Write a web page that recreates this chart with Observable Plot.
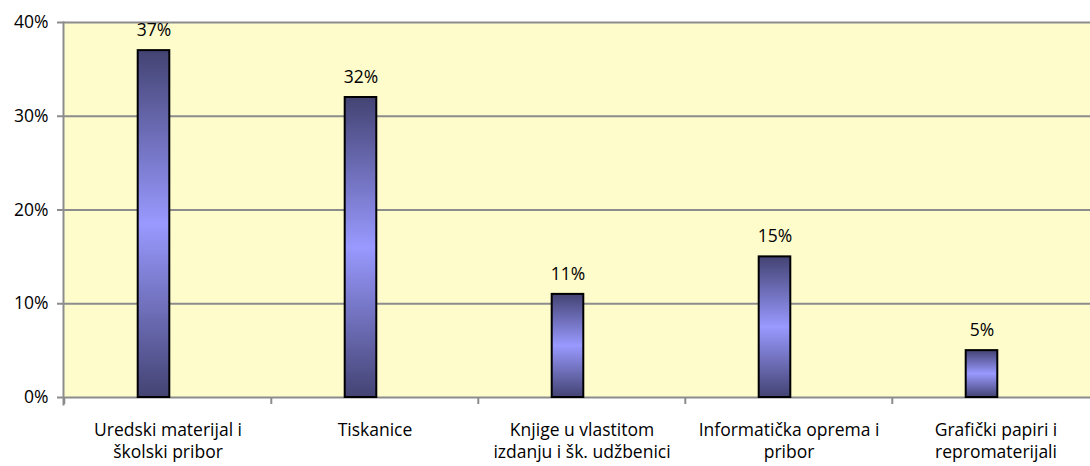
<!DOCTYPE html>
<html>
<head>
<meta charset="utf-8">
<script src="https://cdn.jsdelivr.net/npm/d3@7"></script>
<script src="https://cdn.jsdelivr.net/npm/@observablehq/plot@0.6"></script>
<style>
  html, body { margin: 0; padding: 0; background: #fff; overflow: hidden; }
  #chart svg { display: block; overflow: hidden; }
</style>
</head>
<body>
<div id="chart"></div>
<script>
const categories = [
  "Uredski materijal i\nškolski pribor",
  "Tiskanice",
  "Knjige u vlastitom\nizdanju i šk. udžbenici",
  "Informatička oprema i\npribor",
  "Grafički papiri i\nrepromaterijali"
];
const values = [0.37, 0.32, 0.11, 0.15, 0.05];
const yTicks = [0, 0.1, 0.2, 0.3, 0.4];

const data = categories.map((c, i) => ({category: c, value: values[i]}));

const W = 1090, H = 466;
const xRange = [63, 1100];
const band = (xRange[1] - xRange[0]) / categories.length;
const barW = 32;
const barShift = -14;
const font = "'Open Sans', sans-serif";
const gray = "#8c8c8c";
const fs = 17.5;

const plot = Plot.plot({
  width: W,
  height: H,
  marginLeft: 63,
  marginRight: 0,
  marginTop: 22,
  marginBottom: 69,
  style: {fontFamily: font, fontSize: fs + "px", color: "#000", background: "#fff"},
  x: {domain: categories, range: xRange, padding: 0},
  y: {domain: [0, 0.4]},
  marks: [
    Plot.frame({fill: "#FFFCCC", stroke: null}),
    Plot.ruleY(yTicks, {stroke: gray, strokeWidth: 2}),
    Plot.frame({anchor: "left", stroke: gray, strokeWidth: 2, insetBottom: -7}),
    Plot.axisY({ticks: yTicks, tickFormat: d3.format(".0%"), tickSize: 6, tickPadding: 9,
                stroke: gray, strokeWidth: 2, fontSize: fs, fill: "#000", label: null}),
    Plot.axisX({tickSize: 7, tickFormat: () => "", dx: -band / 2, stroke: gray, strokeWidth: 2, label: null}),
    Plot.axisX({tickSize: 0, tickPadding: 22, lineHeight: 1.3, fontSize: fs, fill: "#000", label: null}),
    Plot.barY(data, {x: "category", y: "value", fill: "url(#barGrad)", stroke: "#000", strokeWidth: 2,
                     insetLeft: (band - barW) / 2, insetRight: (band - barW) / 2, dx: barShift}),
    Plot.text(data, {x: "category", y: "value", text: d => d3.format(".0%")(d.value),
                     dx: barShift, dy: -20, fontSize: fs, fill: "#000"})
  ]
});

const defs = d3.select(plot).insert("defs", ":first-child");
const g = defs.append("linearGradient").attr("id", "barGrad")
  .attr("x1", 0).attr("y1", 0).attr("x2", 0).attr("y2", 1);
g.append("stop").attr("offset", "0%").attr("stop-color", "#434373");
g.append("stop").attr("offset", "50%").attr("stop-color", "#9999FF");
g.append("stop").attr("offset", "100%").attr("stop-color", "#434373");

document.getElementById("chart").appendChild(plot);
</script>
</body>
</html>
